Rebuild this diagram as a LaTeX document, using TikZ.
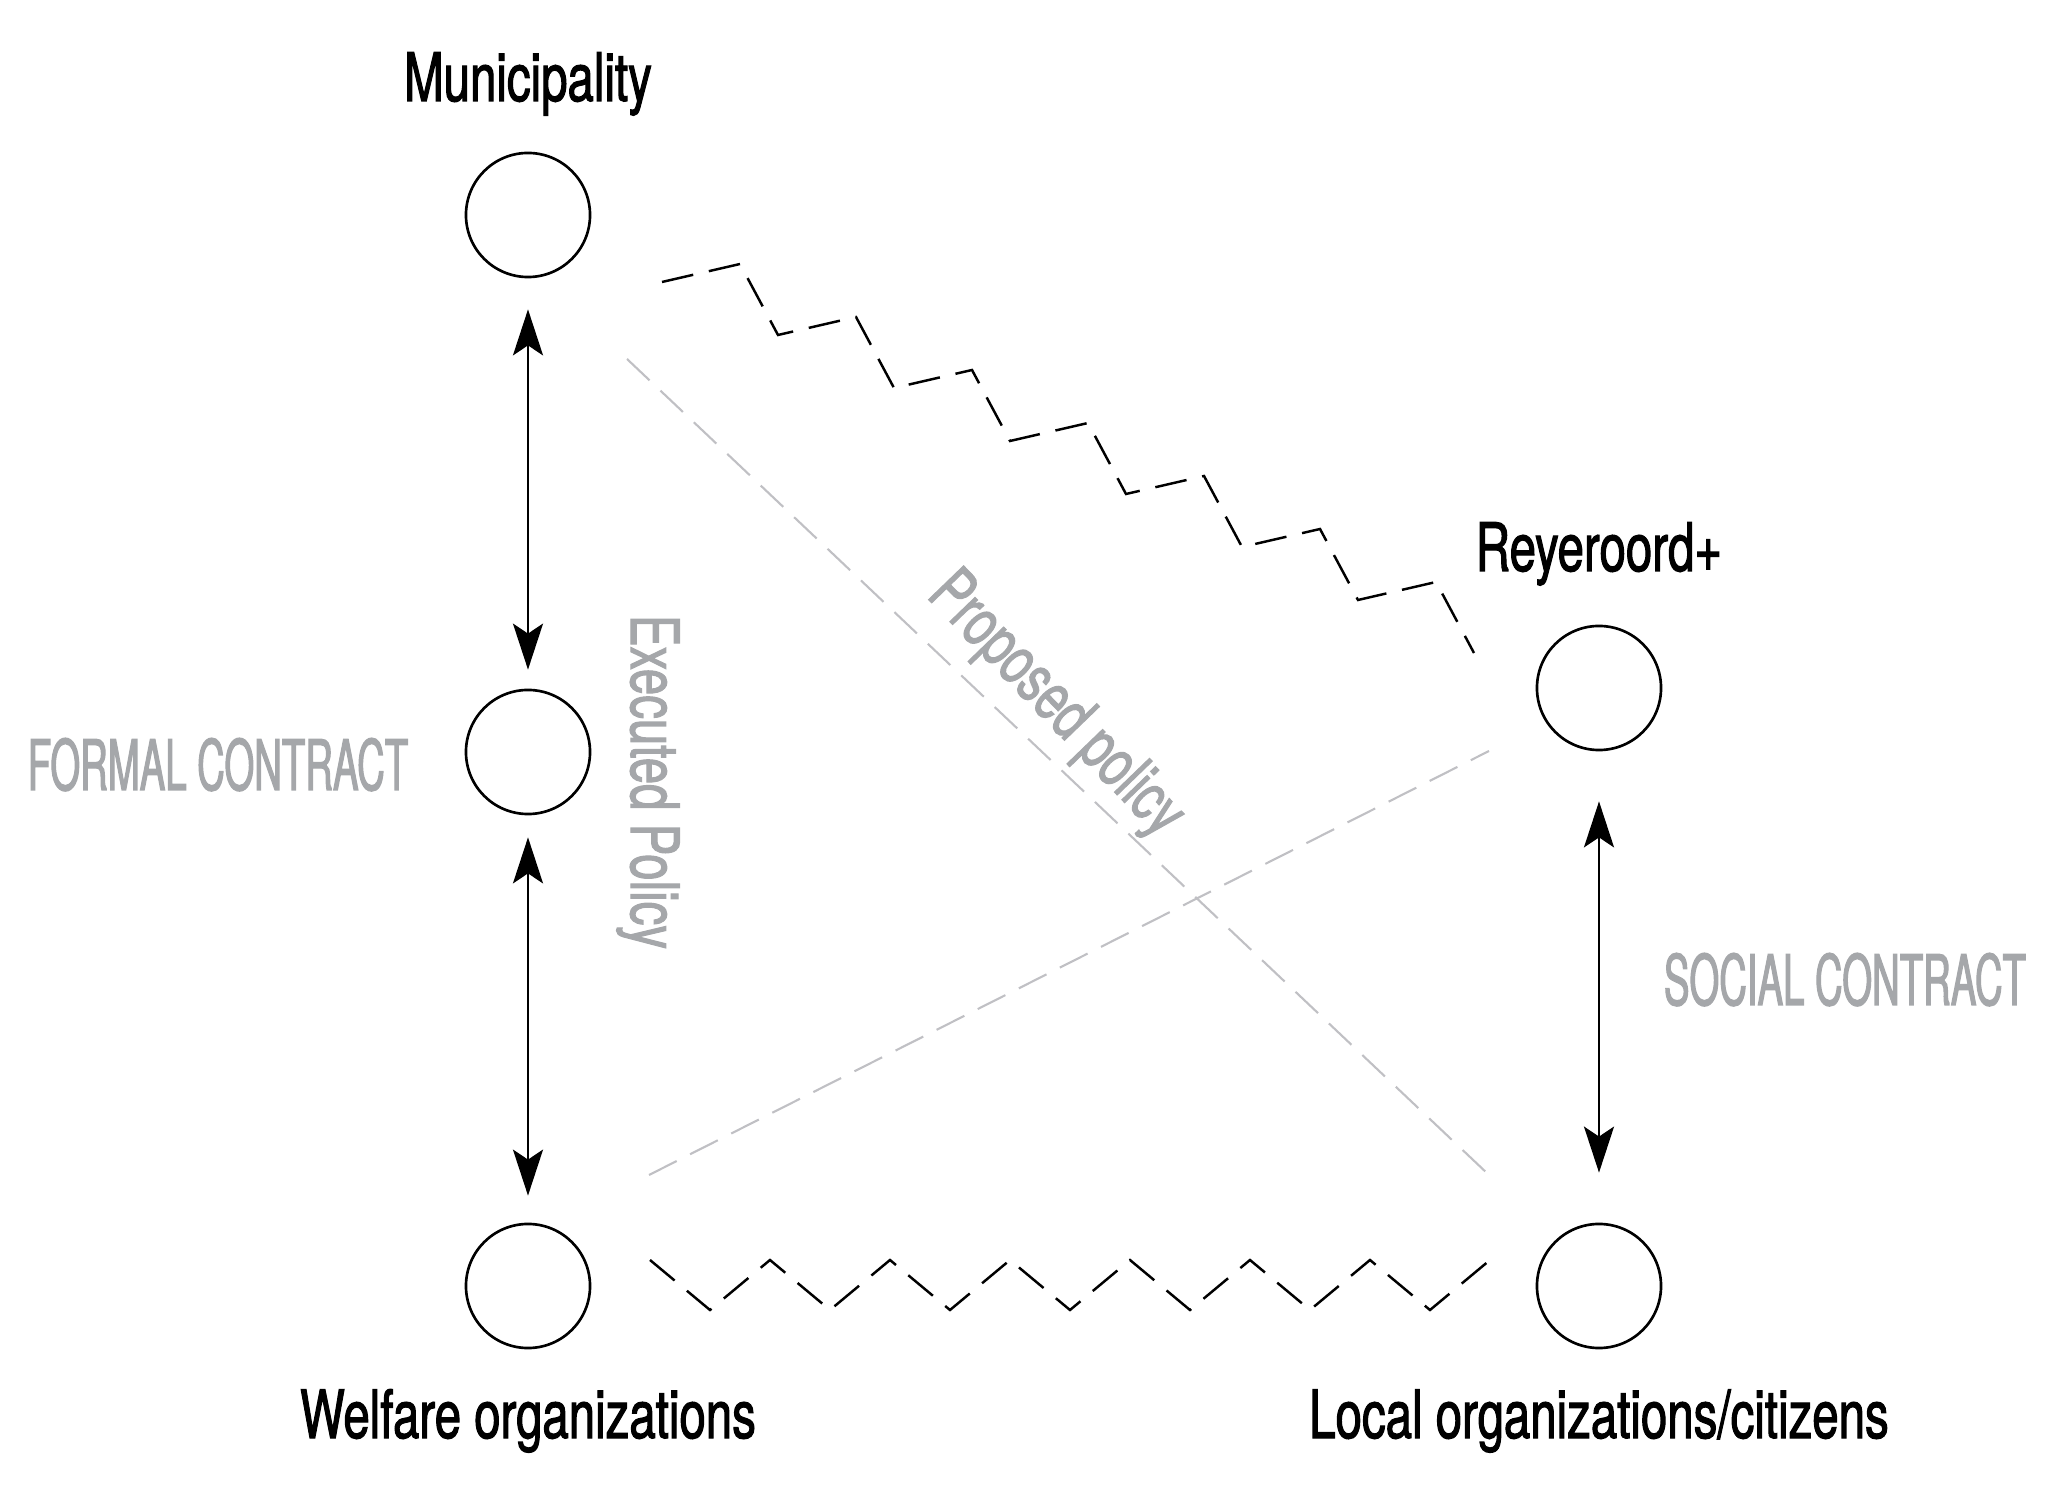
\documentclass[tikz,border=0pt]{standalone}
\usepackage{fontspec}
\setmainfont{TeX Gyre Heros}[FakeStretch=0.71, FakeBold=1.6]
\newfontfamily\capsfont{TeX Gyre Heros}[FakeStretch=0.55, FakeBold=1.6]
\definecolor{labelGray}{RGB}{165,167,170}
\definecolor{lineGray}{RGB}{192,192,196}
\usetikzlibrary{arrows.meta, positioning}

\begin{document}
\begin{tikzpicture}[x=0.01cm, y=-0.01cm,
  actor/.style={circle, draw, line width=0.75pt, minimum size=1.24cm, inner sep=0pt},
  actorlab/.style={anchor=base, font=\fontsize{19}{23}\selectfont},
  note/.style={text=labelGray, font=\fontsize{19}{23}\selectfont},
  contract/.style={anchor=base, text=labelGray, font=\capsfont\fontsize{19.8}{24}\selectfont},
  link/.style={{Stealth[length=0.46cm, width=0.3cm, inset=0.1cm]}-{Stealth[length=0.46cm, width=0.3cm, inset=0.1cm]}, line width=0.65pt},
  policy/.style={lineGray, line width=0.6pt, dash pattern=on 0.31cm off 0.15cm},
  strain/.style={black, line width=0.7pt, dash pattern=on 0.32cm off 0.16cm},
]
  \useasboundingbox (0,0) rectangle (2048,1504);

  % actors
  \node[actor] (muni) at (528,215) {};
  \node[actor] (formal) at (528,752) {};
  \node[actor] (welfare) at (528,1286) {};
  \node[actor] (rey) at (1599,688) {};
  \node[actor] (local) at (1599,1286) {};

  \node[actorlab] (muniLab) at (528,101) {Municipality};
  \node[actorlab] (reyLab) at (1599,571) {Reyeroord+};
  \node[actorlab] (welfareLab) at (528,1438) {Welfare organizations};
  \node[actorlab] (localLab) at (1599,1438) {Local organizations/citizens};

  % contracts
  \draw[link, shorten <=0.31cm, shorten >=0.19cm] (muni) -- (formal);
  \draw[link, shorten <=0.22cm, shorten >=0.27cm] (formal) -- (welfare);
  \draw[link, shorten <=0.5cm, shorten >=0.5cm] (rey) -- (local);

  \node[contract] (formalLab) at (218,790) {FORMAL CONTRACT};
  \node[contract] (socialLab) at (1845,1005) {SOCIAL CONTRACT};

  % policy lines
  \coordinate (muniOut) at (627,359);
  \coordinate (localIn) at (1489,1175);
  \coordinate (welfareOut) at (649,1175);
  \coordinate (reyIn) at (1489,751);
  \draw[policy] (muniOut) -- (localIn);
  \draw[policy] (welfareOut) -- (reyIn);

  \node[note, rotate=-90] (executed) at (648,782) {Executed Policy};
  \node[note, rotate=-46] (proposed) at (1055,706) {Proposed policy};

  % strains
  \coordinate (stairStart) at (662,282);
  \coordinate (zigStart) at (650,1260);
  \draw[strain] (stairStart)
    -- ++(78,-18) -- ++(38,71) -- ++(78,-18) -- ++(38,71)
    -- ++(78,-18) -- ++(38,71) -- ++(78,-18) -- ++(38,71)
    -- ++(78,-18) -- ++(38,71) -- ++(78,-18) -- ++(38,71)
    -- ++(78,-18) -- ++(38,71);
  \draw[strain] (zigStart)
    -- ++(60,50) -- ++(60,-50) -- ++(60,50) -- ++(60,-50)
    -- ++(60,50) -- ++(60,-50) -- ++(60,50) -- ++(60,-50)
    -- ++(60,50) -- ++(60,-50) -- ++(60,50) -- ++(60,-50)
    -- ++(60,50) -- ++(60,-50);
\end{tikzpicture}
\end{document}
